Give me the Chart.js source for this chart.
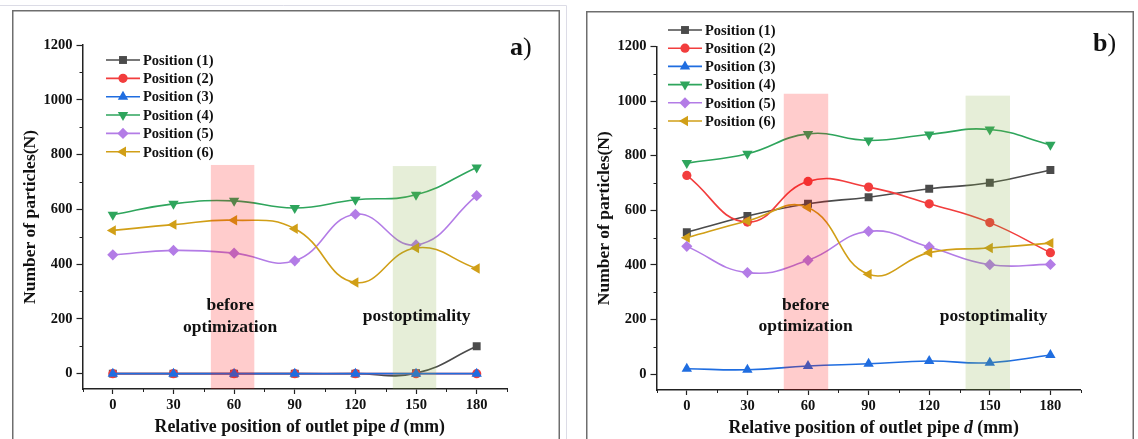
<!DOCTYPE html>
<html>
<head>
<meta charset="utf-8">
<script src="https://cdn.jsdelivr.net/npm/chart.js@4.4.0/dist/chart.umd.min.js"></script>
<style>
  html, body { margin: 0; padding: 0; background: #fff; }
  #wrap { position: relative; width: 1138px; height: 439px; overflow: hidden; }
  canvas { position: absolute; top: 0; }
  #chartA { left: 0; }
  #chartB { left: 569px; }
</style>
</head>
<body>
<div id="wrap">
  <canvas id="chartA" width="569" height="439"></canvas>
  <canvas id="chartB" width="569" height="439"></canvas>
</div>
<script>
// valeurs
const positions = [0, 30, 60, 90, 120, 150, 180];
const seriesNames = ['Position (1)', 'Position (2)', 'Position (3)', 'Position (4)', 'Position (5)', 'Position (6)'];

// a)
const aPos1 = [0, 0, 0, 0, 0, 2, 100];
const aPos2 = [0, 0, 0, 0, 0, 0, 0];
const aPos3 = [0, 0, 0, 0, 0, 0, 0];
const aPos4 = [580, 620, 631, 605, 635, 653, 753];
const aPos5 = [434, 450, 440, 412, 582, 470, 650];
const aPos6 = [523, 544, 560, 529, 333, 459, 384];

// b)
const bPos1 = [520, 579, 624, 648, 679, 701, 748];
const bPos2 = [728, 557, 706, 685, 624, 555, 445];
const bPos3 = [20, 16, 30, 38, 48, 42, 70];
const bPos4 = [773, 807, 880, 856, 878, 896, 840];
const bPos5 = [468, 372, 417, 523, 466, 401, 402];
const bPos6 = [500, 561, 610, 366, 445, 462, 480];

// bandes colorées : [début, fin, hauteur]
const aBands = [[48.5, 70, 762], [138.5, 160, 758]];
const bBands = [[48, 70, 1027], [138, 160, 1020]];

// graduations
const xTicks = [0, 30, 60, 90, 120, 150, 180];
const yTicks = [0, 200, 400, 600, 800, 1000, 1200];
const xMinor = [-15, 15, 45, 75, 105, 135, 165, 195];
const yMinor = [100, 300, 500, 700, 900, 1100];

const SERIF = '"Liberation Serif", "Times New Roman", serif';
const colors = ['#4b4b4b', '#f23d3d', '#1f6de0', '#2ea55c', '#b37ce6', '#d19f17'];
const markers = [['rect', 0, 5.6], ['circle', 0, 4.6], ['triangle', 0, 6], ['triangle', 180, 6], ['rectRot', 0, 5.6], ['triangle', 270, 6]];
const bandColors = ['rgba(255, 0, 0, 0.2)', 'rgba(130, 170, 60, 0.2)'];

const panelDecor = {
  id: 'panelDecor',
  afterDatasetsDraw(chart, args, o) {
    const { ctx, scales: { x, y } } = chart;
    ctx.save();
    o.bands.forEach((b, i) => {
      const l = x.getPixelForValue(b[0]);
      const r = x.getPixelForValue(b[1]);
      const t = y.getPixelForValue(b[2]);
      ctx.fillStyle = bandColors[i];
      ctx.fillRect(l, t, r - l, y.bottom - t);
    });
    ctx.restore();
  },
  afterDraw(chart, args, o) {
    const { ctx, chartArea: ca, scales: { x, y } } = chart;
    ctx.save();

    // petites graduations
    ctx.strokeStyle = '#222';
    ctx.lineWidth = 1;
    ctx.beginPath();
    xMinor.forEach(v => {
      const px = Math.round(x.getPixelForValue(v)) + 0.5;
      ctx.moveTo(px, ca.bottom);
      ctx.lineTo(px, ca.bottom + 3);
    });
    yMinor.forEach(v => {
      const py = Math.round(y.getPixelForValue(v)) + 0.5;
      ctx.moveTo(ca.left, py);
      ctx.lineTo(ca.left - 3, py);
    });
    ctx.stroke();

    // légende
    const lg = o.legend;
    chart.data.datasets.forEach((ds, i) => {
      const ly = lg.y + i * lg.gap;
      ctx.strokeStyle = ds.borderColor;
      ctx.lineWidth = 1.6;
      ctx.beginPath();
      ctx.moveTo(lg.x, ly);
      ctx.lineTo(lg.x + 34, ly);
      ctx.stroke();
      ctx.fillStyle = ds.pointBackgroundColor;
      Chart.helpers.drawPoint(ctx, {
        pointStyle: ds.pointStyle, radius: ds.pointRadius,
        rotation: ds.pointRotation, borderWidth: 0
      }, lg.x + 17, ly);
      ctx.fillStyle = '#111';
      ctx.font = 'bold 14.5px ' + SERIF;
      ctx.textAlign = 'left';
      ctx.textBaseline = 'middle';
      ctx.fillText(ds.label, lg.x + 37, ly + 1);
    });

    // textes dans le graphique
    ctx.fillStyle = '#111';
    ctx.font = 'bold 17.5px ' + SERIF;
    ctx.textAlign = 'center';
    ctx.textBaseline = 'middle';
    o.notes.forEach(n => {
      ctx.fillText(n[0], x.getPixelForValue(n[1]), y.getPixelForValue(n[2]));
    });

    // titre de l'axe x, avec d en italique
    const parts = [['Relative position of outlet pipe ', 'bold'], ['d', 'italic bold'], [' (mm)', 'bold']];
    ctx.textAlign = 'left';
    let total = 0;
    parts.forEach(p => { ctx.font = p[1] + ' 17.8px ' + SERIF; total += ctx.measureText(p[0]).width; });
    let tx = (ca.left + ca.right) / 2 + 5 - total / 2;
    parts.forEach(p => {
      ctx.font = p[1] + ' 17.8px ' + SERIF;
      ctx.fillText(p[0], tx, o.xTitleY);
      tx += ctx.measureText(p[0]).width;
    });

    // lettre du panneau
    ctx.textBaseline = 'alphabetic';
    ctx.font = 'bold 26px ' + SERIF;
    ctx.fillText(o.letter[0], o.letter[1], o.letter[2]);
    const w = ctx.measureText(o.letter[0]).width;
    ctx.font = '26px ' + SERIF;
    ctx.fillText(')', o.letter[1] + w, o.letter[2]);

    // cadre
    if (o.outer) {
      ctx.strokeStyle = '#dcdce6';
      ctx.lineWidth = 1;
      ctx.beginPath();
      ctx.moveTo(0, 5.5);
      ctx.lineTo(566.5, 5.5);
      ctx.lineTo(566.5, 440);
      ctx.stroke();
    }
    ctx.strokeStyle = '#6e6e6e';
    ctx.lineWidth = 1.5;
    ctx.strokeRect(o.frame[0], o.frame[1], o.frame[2], 460);

    ctx.restore();
  }
};

function makeChart(id, series, cfg) {
  const datasets = series.map((vals, i) => ({
    label: seriesNames[i],
    data: positions.map((p, j) => ({ x: p, y: vals[j] })),
    borderColor: colors[i],
    backgroundColor: colors[i],
    pointBackgroundColor: colors[i],
    pointBorderColor: colors[i],
    pointBorderWidth: 0,
    pointStyle: markers[i][0],
    pointRotation: markers[i][1],
    pointRadius: markers[i][2],
    borderWidth: 1.6,
    tension: 0.45,
    fill: false,
    order: 6 - i
  }));

  const tickFont = { family: SERIF, size: 14.5, weight: 'bold' };

  return new Chart(document.getElementById(id), {
    type: 'line',
    data: { datasets },
    plugins: [panelDecor],
    options: {
      responsive: false,
      animation: false,
      events: [],
      layout: { padding: { left: 0, top: cfg.top, right: 569 - cfg.right, bottom: 0 } },
      plugins: {
        legend: { display: false },
        tooltip: { enabled: false },
        panelDecor: cfg.decor
      },
      scales: {
        x: {
          type: 'linear',
          min: -15,
          max: 195,
          afterBuildTicks: s => { s.ticks = xTicks.map(v => ({ value: v })); },
          afterFit: s => { s.height = 439 - cfg.bottom; },
          grid: { display: true, drawOnChartArea: false, drawTicks: true, tickLength: 5, tickColor: '#222', tickWidth: 1.2 },
          border: { display: true, color: '#222', width: 1.5 },
          ticks: { autoSkip: false, maxRotation: 0, padding: 3, color: '#111', font: tickFont, callback: v => String(v) }
        },
        y: {
          type: 'linear',
          min: cfg.ymin,
          max: 1200,
          afterBuildTicks: s => { s.ticks = yTicks.map(v => ({ value: v })); },
          afterFit: s => { s.width = cfg.left; },
          grid: { display: true, drawOnChartArea: false, drawTicks: true, tickLength: 6, tickColor: '#222', tickWidth: 1.2 },
          border: { display: true, color: '#222', width: 1.5 },
          ticks: { autoSkip: false, padding: 4, color: '#111', font: tickFont, callback: v => String(v) },
          title: {
            display: true,
            text: 'Number of particles(N)',
            color: '#111',
            font: { family: SERIF, size: 17.5, weight: 'bold' },
            padding: { top: cfg.titlePad, bottom: 0 }
          }
        }
      }
    }
  });
}

makeChart('chartA', [aPos1, aPos2, aPos3, aPos4, aPos5, aPos6], {
  left: 82.5, right: 507, top: 45, bottom: 389, ymin: -56, titlePad: 20,
  decor: {
    bands: aBands,
    legend: { x: 106, y: 60, gap: 18.35 },
    notes: [['before', 58, 248], ['optimization', 58, 168], ['postoptimality', 150.3, 209]],
    xTitleY: 427,
    letter: ['a', 510, 54.5],
    outer: true,
    frame: [12.75, 10.75, 546.5]
  }
});

makeChart('chartB', [bPos1, bPos2, bPos3, bPos4, bPos5, bPos6], {
  left: 87.5, right: 511.7, top: 46.5, bottom: 390, ymin: -58, titlePad: 25,
  decor: {
    bands: bBands,
    legend: { x: 99, y: 30, gap: 18.2 },
    notes: [['before', 58.8, 252], ['optimization', 58.8, 173], ['postoptimality', 151.9, 212]],
    xTitleY: 428,
    letter: ['b', 524, 50.5],
    outer: false,
    frame: [17.75, 11.75, 546.5]
  }
});
</script>
</body>
</html>
